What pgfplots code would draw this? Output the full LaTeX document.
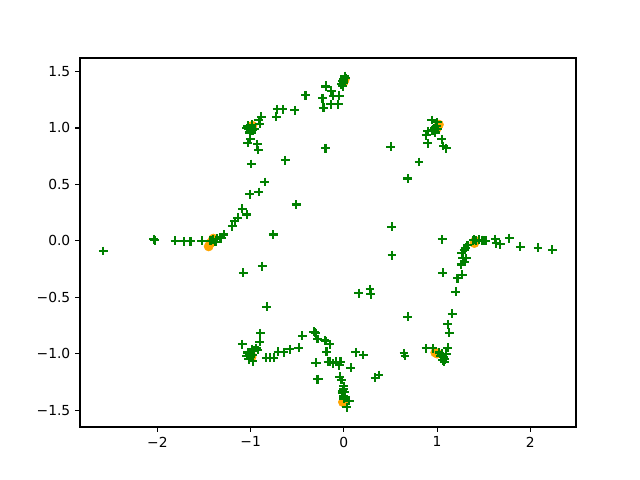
\documentclass[border=0pt]{standalone}
\usepackage{fontspec}
\setmainfont{DejaVu Sans}
\usepackage{pgfplots}
\pgfplotsset{compat=1.18}
\definecolor{mplgreen}{HTML}{008000}
\definecolor{mplorange}{HTML}{FFA500}
\begin{document}
\begin{tikzpicture}
\useasboundingbox (-0.8in,-0.53in) rectangle (5.6in,4.27in);
\begin{axis}[
  at={(0,0)}, anchor=south west,
  scale only axis, width=4.96in, height=3.69in,
  xmin=-2.83, xmax=2.49, ymin=-1.65, ymax=1.62,
  xtick={-2,-1,0,1,2}, xticklabels={−2,−1,0,1,2},
  ytick={-1.5,-1,-0.5,0,0.5,1,1.5},
  yticklabels={−1.5,−1.0,−0.5,0.0,0.5,1.0,1.5},
  tick align=outside, major tick length=3.5pt,
  tick style={black, line width=0.8pt},
  xtick pos=bottom, ytick pos=left,
  axis line style={line width=0.8pt},
  ticklabel style={font=\fontsize{10}{12}\selectfont},
  clip=false,
]
\addplot[only marks, mark=*, mark size=3.3pt, color=mplorange, mark options={draw=mplorange, fill=mplorange}] coordinates {
(-1.41,0.00) (-1.43,-0.02) (-1.45,-0.05) (-1.40,0.02)
(-1.00,1.00) (-0.98,1.02)
(0.00,1.41) (0.01,1.43)
(1.00,1.00) (1.02,1.03)
(1.41,0.00) (1.40,-0.02)
(1.00,-1.00) (0.98,-0.99)
(0.00,-1.41) (-0.01,-1.43)
(-1.00,-1.00) (-0.99,-1.03)
};
\addplot[only marks, mark=+, mark size=3.2pt, color=mplgreen, line width=1.5pt, mark options={line width=1.5pt, solid}] coordinates {
(-0.194,1.364) (-0.412,1.290) (-0.229,1.263) (-0.218,1.180) (-0.717,1.165)
(-0.656,1.165) (-0.527,1.156) (-0.724,1.098) (-0.885,1.098) (-0.911,1.067)
(-0.903,1.038) (-1.029,1.018) (-0.957,0.988) (-1.003,0.899) (-1.029,0.870)
(-0.928,0.855) (-0.917,0.805) (-0.197,0.819) (-0.992,0.681) (-0.627,0.713)
(-0.849,0.521) (-1.011,0.414) (-0.914,0.432) (-0.509,0.322) (-1.089,0.284)
(-1.040,0.233) (-1.137,0.204) (-1.172,0.175) (-1.197,0.130) (-1.290,0.056)
(-0.756,0.056) (-2.040,0.015) (-2.030,0.005) (-1.810,0.000) (-1.710,-0.005)
(-1.645,-0.005) (-1.524,0.000) (-1.423,0.000) (-1.369,-0.010) (-1.315,0.024)
(-2.581,-0.090)
(-1.03,1.02) (-1.00,1.00) (-1.02,0.99) (-0.99,1.03) (-1.04,1.00) (-0.98,0.98) (-1.01,0.96)
(-1.42,0.00) (-1.40,0.01) (-1.38,-0.01) (-1.36,0.02) (-1.33,0.03) (-1.44,0.00)
(-0.874,-0.224) (-1.078,-0.284) (-0.828,-0.583) (-0.896,-0.819) (-1.089,-0.917)
(-0.903,-0.894) (-1.011,-0.997) (-0.921,-0.968) (-0.975,-1.067) (-0.831,-1.036)
(-0.788,-1.036) (-0.749,-1.036) (-0.706,-0.982) (-0.645,-0.988) (-0.581,-0.961)
(-0.484,-0.947) (-0.444,-0.840) (-0.319,-0.805) (-0.301,-0.819) (-0.283,-0.870)
(-0.194,-0.888) (-0.186,-0.982) (-0.294,-1.080) (-0.169,-1.071) (-0.283,-1.227)
(-1.01,-1.00) (-1.03,-0.99) (-0.98,-1.01) (-1.00,-1.03) (-0.96,-0.97) (-1.04,-1.02)
(-0.99,-0.96) (-0.94,-0.95) (-1.02,-1.05)
(-0.323,-0.805) (-0.309,-0.814) (-0.204,-0.881) (-0.151,-0.917) (-0.301,-1.080)
(-0.151,-1.071) (-0.115,-1.085) (-0.086,-1.071) (-0.050,-1.103) (-0.036,-1.071)
(0.072,-1.124) (-0.276,-1.227) (-0.043,-1.204) (-0.025,-1.233) (-0.007,-1.337)
(0.057,-1.417) (0.029,-1.476)
(-0.01,-1.33) (0.00,-1.31) (-0.02,-1.35) (0.00,-1.29) (0.01,-1.34) (0.00,-1.40) (0.00,-1.38)
(0.126,-0.988) (0.208,-1.012) (0.337,-1.213) (0.373,-1.189) (0.645,-0.997)
(0.656,-1.021) (0.685,-0.672) (0.158,-0.464) (0.280,-0.428) (0.290,-0.475)
(0.516,-0.127) (1.054,0.012) (1.061,-0.284) (0.882,-0.952) (0.953,-0.952)
(1.068,-1.027) (1.075,-1.071) (1.115,-0.947) (1.129,-0.814) (1.115,-0.739)
(1.161,-0.645) (1.201,-0.453) (1.219,-0.331) (1.272,-0.302) (1.258,-0.210)
(1.290,-0.186) (1.276,-0.151) (1.312,-0.156) (1.265,-0.112) (1.290,-0.082)
(1.308,-0.062) (1.326,-0.038)
(1.05,-1.00) (1.07,-1.03) (1.04,-1.02) (1.08,-1.05) (1.06,-1.06) (1.02,-0.99) (1.10,-1.00)
(1.390,0.006) (1.480,0.006) (1.516,0.000) (1.624,0.015) (1.634,-0.023)
(1.677,-0.029) (1.774,0.024) (1.892,-0.053) (2.082,-0.062) (2.237,-0.080)
(1.40,0.01) (1.42,0.00) (1.45,0.01) (1.48,0.005) (1.50,0.00) (1.52,0.00)
(-0.409,1.290) (-0.194,1.373) (-0.133,1.329) (-0.115,1.284) (-0.050,1.284)
(-0.229,1.263) (-0.222,1.180) (-0.140,1.209) (-0.061,1.209)
(-0.007,1.417) (0.011,1.459) (-0.025,1.387)
(-0.01,1.42) (0.01,1.45) (-0.02,1.39) (0.00,1.40) (0.02,1.44) (-0.01,1.37) (0.00,1.43)
(-0.194,0.819) (0.502,0.834) (0.806,0.699) (0.685,0.552) (0.513,0.123)
(0.943,1.071) (0.989,1.018) (0.971,0.973) (0.882,0.936) (0.900,0.971)
(0.900,0.863) (1.050,0.899) (1.068,0.840) (1.097,0.819)
(0.97,1.00) (0.99,1.02) (0.95,0.98) (1.00,1.05) (0.98,0.96) (1.01,0.99)
};
\end{axis}
\end{tikzpicture}
\end{document}
